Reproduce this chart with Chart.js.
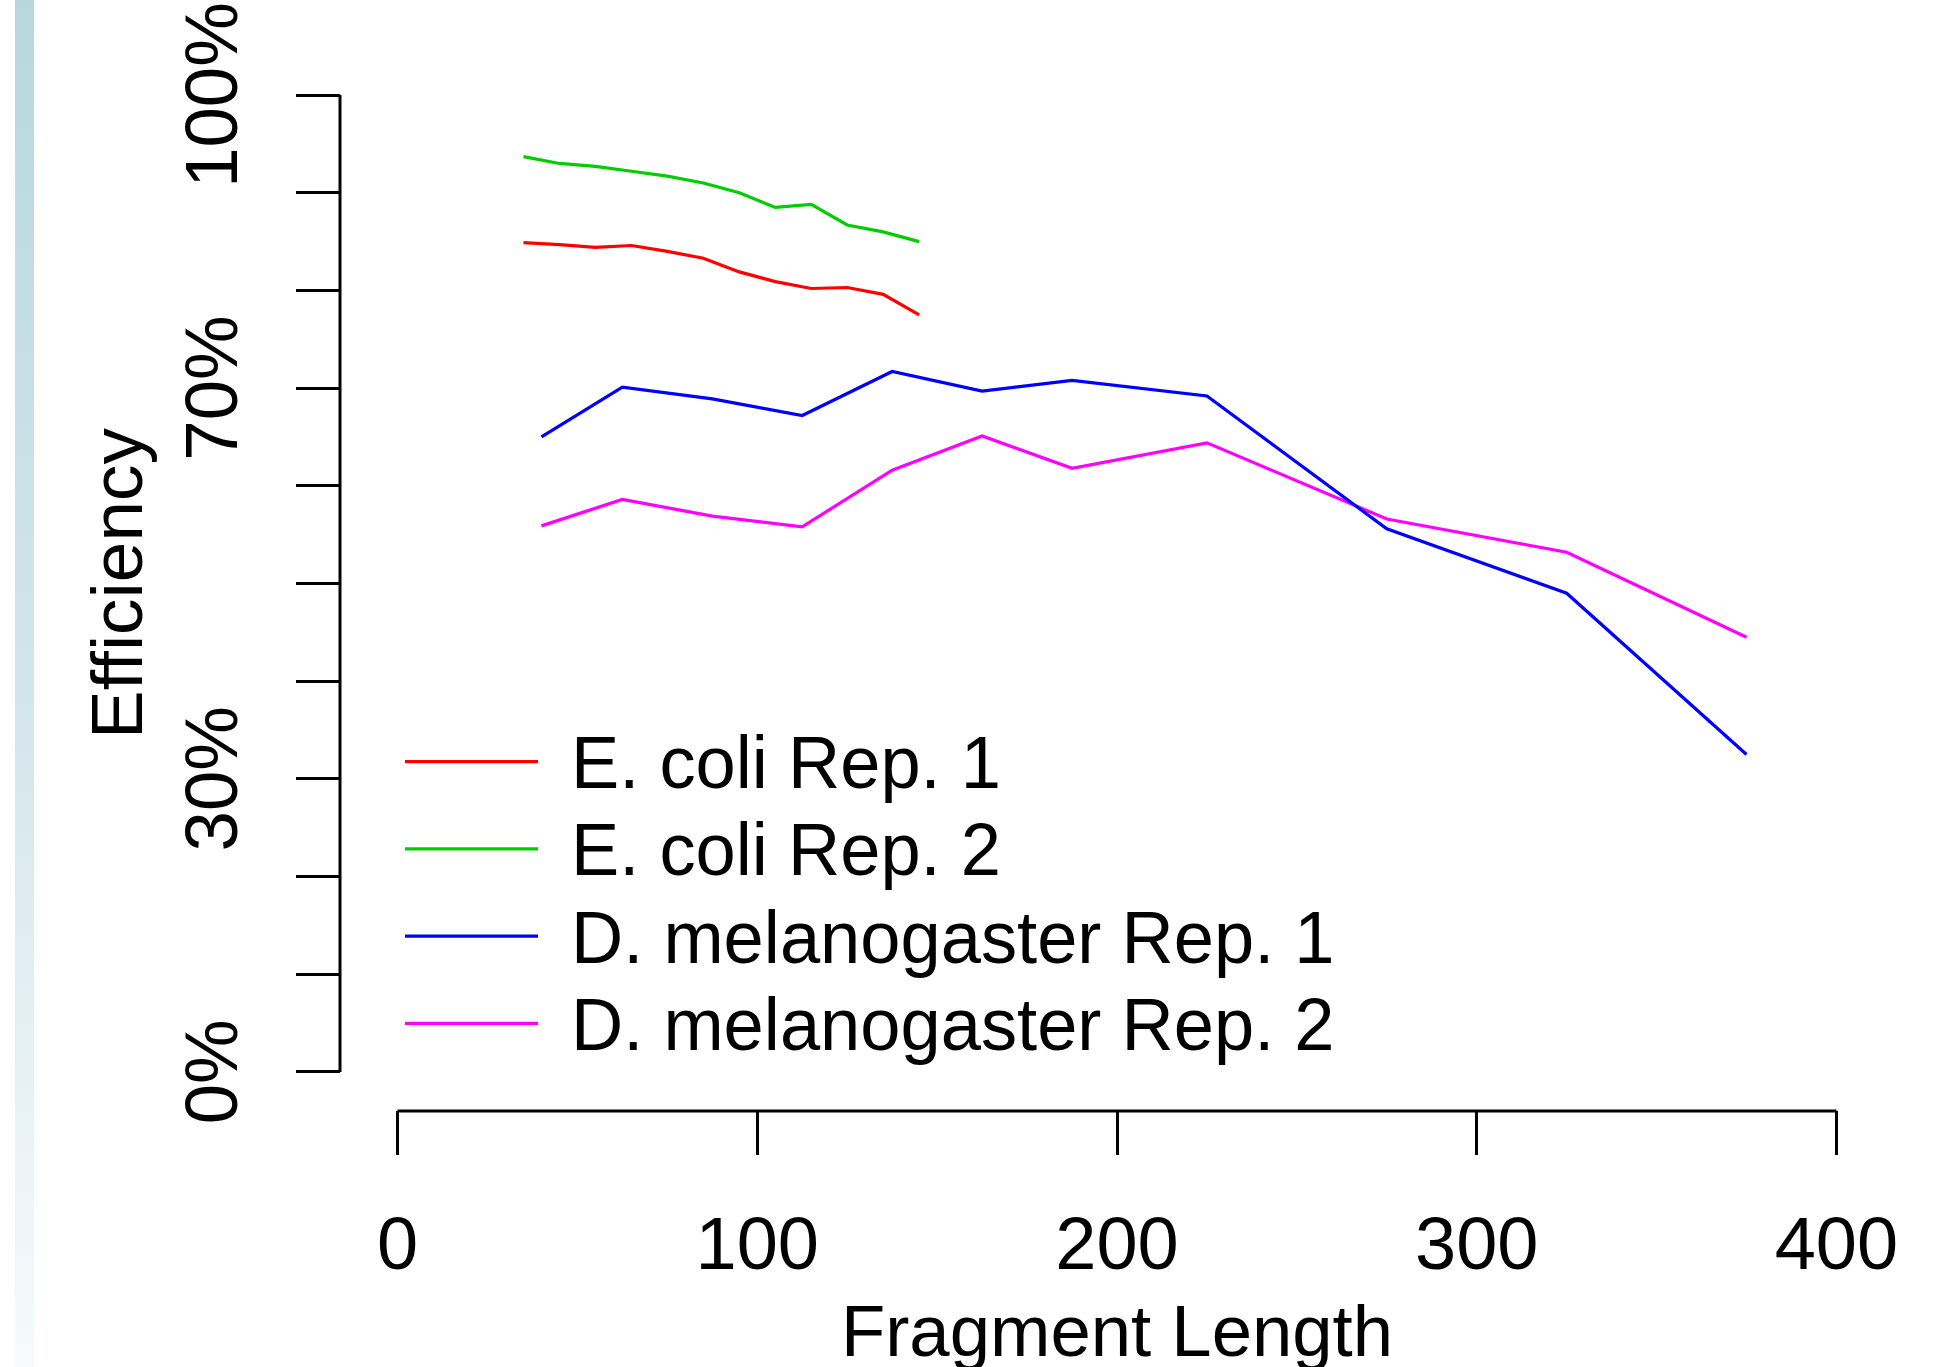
<!DOCTYPE html>
<html>
<head>
<meta charset="utf-8">
<script src="https://cdn.jsdelivr.net/npm/chart.js@4"></script>
<style>
  html, body { margin: 0; padding: 0; background: #fff; overflow: hidden; }
  #wrap { position: relative; width: 1960px; height: 1367px; }
  #strip {
    position: absolute; left: 15px; top: 0; width: 19px; height: 1367px;
    background: linear-gradient(to bottom, #b7d7df 0%, #d2e5eb 50%, #f6fafc 100%);
  }
  #grafica { position: absolute; left: 0; top: 0; }
</style>
</head>
<body>
<div id="wrap">
  <div id="strip"></div>
  <canvas id="grafica" width="1960" height="1367"></canvas>
</div>
<script>
// datos
const largoEcoli = [35, 45, 55, 65, 75, 85, 95, 105, 115, 125, 135, 145];
const ecoliRep1 = [84.9, 84.7, 84.4, 84.6, 84.0, 83.3, 81.9, 80.9, 80.2, 80.3, 79.6, 77.5];
const ecoliRep2 = [93.7, 93.0, 92.7, 92.2, 91.7, 91.0, 90.0, 88.5, 88.8, 86.7, 86.0, 85.0];

const largoDmel = [40, 62.5, 87.5, 112.5, 137.5, 162.5, 187.5, 225, 275, 325, 375];
const dmelRep1 = [65.0, 70.1, 68.9, 67.2, 71.7, 69.7, 70.8, 69.2, 55.6, 49.0, 32.5];
const dmelRep2 = [55.9, 58.6, 56.9, 55.8, 61.6, 65.1, 61.8, 64.4, 56.6, 53.2, 44.5];

const etiquetas = ["E. coli Rep. 1", "E. coli Rep. 2", "D. melanogaster Rep. 1", "D. melanogaster Rep. 2"];
const colores = ["#FF0000", "#00CD00", "#0000FF", "#FF00FF"];

const ticksX = [0, 100, 200, 300, 400];
const ticksY = [0, 10, 20, 30, 40, 50, 60, 70, 80, 90, 100];
const etiquetasY = [0, 30, 70, 100];

const fuente = "'Liberation Sans', Arial, sans-serif";

function puntos(xs, ys) {
  return xs.map((x, i) => ({ x: x, y: ys[i] }));
}

// ejes al estilo R: lineas solo de 0 a 400 y de 0% a 100%, etiquetas Y giradas
const ejesR = {
  id: "ejesR",
  afterDraw(chart) {
    const ctx = chart.ctx;
    const sx = chart.scales.x;
    const sy = chart.scales.y;
    const area = chart.chartArea;
    ctx.save();
    ctx.strokeStyle = "#000";
    ctx.lineWidth = 3;
    ctx.beginPath();
    ctx.moveTo(sx.getPixelForValue(0), area.bottom);
    ctx.lineTo(sx.getPixelForValue(400), area.bottom);
    ctx.moveTo(area.left, sy.getPixelForValue(0));
    ctx.lineTo(area.left, sy.getPixelForValue(100));
    ctx.stroke();

    ctx.fillStyle = "#000";
    ctx.font = "74px " + fuente;
    ctx.textAlign = "center";
    ctx.textBaseline = "alphabetic";
    etiquetasY.forEach(v => {
      ctx.save();
      ctx.translate(237, sy.getPixelForValue(v));
      ctx.rotate(-Math.PI / 2);
      ctx.scale(0.98, 1);
      ctx.fillText(v + "%", 0, 0);
      ctx.restore();
    });

    // leyenda
    ctx.textAlign = "left";
    ctx.lineWidth = 3.2;
    chart.data.datasets.forEach((d, i) => {
      const y = 761.7 + i * 87.2;
      ctx.strokeStyle = d.borderColor;
      ctx.beginPath();
      ctx.moveTo(405, y);
      ctx.lineTo(538, y);
      ctx.stroke();
      ctx.save();
      ctx.translate(571, y + 26.5);
      ctx.scale(0.977, 1);
      ctx.fillText(d.label, 0, 0);
      ctx.restore();
    });
    ctx.restore();
  }
};

new Chart(document.getElementById("grafica"), {
  type: "line",
  data: {
    datasets: [
      { label: etiquetas[0], data: puntos(largoEcoli, ecoliRep1), borderColor: colores[0] },
      { label: etiquetas[1], data: puntos(largoEcoli, ecoliRep2), borderColor: colores[1] },
      { label: etiquetas[2], data: puntos(largoDmel, dmelRep1), borderColor: colores[2] },
      { label: etiquetas[3], data: puntos(largoDmel, dmelRep2), borderColor: colores[3] }
    ]
  },
  options: {
    responsive: false,
    animation: false,
    layout: { padding: { top: 56, right: 66, left: 0, bottom: 0 } },
    elements: {
      line: { borderWidth: 3.2, tension: 0, fill: false },
      point: { radius: 0 }
    },
    plugins: {
      legend: { display: false },
      tooltip: { enabled: false }
    },
    scales: {
      x: {
        type: "linear",
        min: -16,
        max: 416,
        afterBuildTicks: s => { s.ticks = ticksX.map(v => ({ value: v })); },
        afterFit: s => { s.height = 256; },
        border: { display: false },
        grid: { drawOnChartArea: false, drawTicks: true, tickLength: 44, color: "#000", lineWidth: 3 },
        ticks: {
          autoSkip: false, maxRotation: 0, padding: 49, color: "#000",
          font: { family: fuente, size: 74, lineHeight: 1.2 },
          callback: v => v
        },
        title: {
          display: true, text: "Fragment Length", color: "#000",
          font: { family: fuente, size: 72.5, lineHeight: 0.8 },
          padding: { top: 0, bottom: 2 }
        }
      },
      y: {
        type: "linear",
        min: -4,
        max: 104,
        afterBuildTicks: s => { s.ticks = ticksY.map(v => ({ value: v })); },
        afterFit: s => { s.width = 340; },
        border: { display: false },
        grid: { drawOnChartArea: false, drawTicks: true, tickLength: 44, color: "#000", lineWidth: 3 },
        ticks: { display: false },
        title: {
          display: true, text: "Efficiency", color: "#000",
          font: { family: fuente, size: 73, lineHeight: 1 },
          padding: { top: 85, bottom: 0 }
        }
      }
    }
  },
  plugins: [ejesR]
});
</script>
</body>
</html>
